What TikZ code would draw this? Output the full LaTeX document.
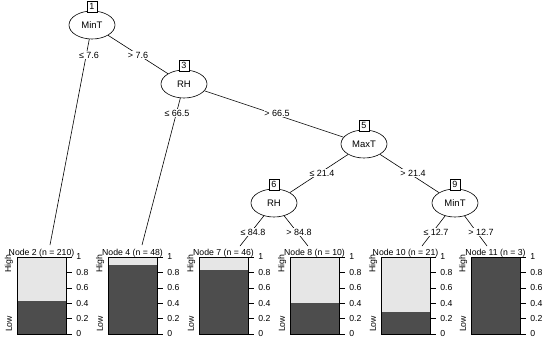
\documentclass[tikz,border=0pt]{standalone}
\usepackage{fontspec}
\setmainfont{Liberation Sans}
\usetikzlibrary{shapes.geometric}

\definecolor{barDark}{HTML}{4D4D4D}
\definecolor{barLight}{HTML}{E6E6E6}

\tikzset{
  split/.style={ellipse, draw, fill=white, minimum width=46pt, minimum height=28pt,
    inner sep=0pt, font=\fontsize{9.5}{10}\selectfont},
  idbox/.style={draw, fill=white, minimum width=10pt, minimum height=11pt, inner sep=0pt,
    font=\fontsize{9}{9}\selectfont},
  elabel/.style={fill=white, inner sep=0.8pt, font=\fontsize{9}{9}\selectfont},
  small/.style={inner sep=0pt, font=\fontsize{8.7}{9}\selectfont},
}

\begin{document}
\begin{tikzpicture}[x=1pt, y=-1pt, line width=0.6pt]
  \useasboundingbox (0,0) rectangle (550,343);

  % inner nodes
  \node[split] (n1) at (92,25) {MinT};
  \node[split] (n3) at (184,84) {RH};
  \node[split] (n5) at (364,144) {MaxT};
  \node[split] (n6) at (274,203) {RH};
  \node[split] (n9) at (455,203) {MinT};
  \node[idbox] (b1) at (92,6.5) {1};
  \node[idbox] (b3) at (184,65.5) {3};
  \node[idbox] (b5) at (364,125.5) {5};
  \node[idbox] (b6) at (274,184.5) {6};
  \node[idbox] (b9) at (455,184.5) {9};

  % leaf tops
  \coordinate (l2) at (50,245);
  \coordinate (l4) at (142,245);
  \coordinate (l7) at (240,246);
  \coordinate (l8) at (308,246);
  \coordinate (l10) at (422,246);
  \coordinate (l11) at (487,246);

  \draw (n1) -- (l2);
  \draw (n1) -- (n3);
  \draw (n3) -- (l4);
  \draw (n3) -- (n5);
  \draw (n5) -- (n6);
  \draw (n5) -- (n9);
  \draw (n6) -- (l7);
  \draw (n6) -- (l8);
  \draw (n9) -- (l10);
  \draw (n9) -- (l11);

  % split labels
  \node[elabel] (e2) at (89,55) {≤ 7.6};
  \node[elabel] (e3) at (138,55) {> 7.6};
  \node[elabel] (e4) at (177,113) {≤ 66.5};
  \node[elabel] (e5) at (277,113) {> 66.5};
  \node[elabel] (e6) at (322,173) {≤ 21.4};
  \node[elabel] (e9) at (413,173) {> 21.4};
  \node[elabel] (e7) at (253,232) {≤ 84.8};
  \node[elabel] (e8) at (299,232) {> 84.8};
  \node[elabel] (e10) at (436,232) {≤ 12.7};
  \node[elabel] (e11) at (481,232) {> 12.7};

  % terminal bar plots
  \foreach \x/\p/\id/\n in {17/0.429/2/210, 108/0.896/4/48, 199/0.826/7/46,
                            290/0.4/8/10, 381/0.286/10/21, 471/1/11/3} {
    \fill[barLight] (\x,257) rectangle (\x+49,334);
    \fill[barDark] (\x,334) rectangle (\x+49,334-77*\p);
    \draw (\x,257) rectangle (\x+49,334);
    \node[small, anchor=base] (t\id) at (\x+24.5,255) {Node \id{} (n = \n)};
    \node[small, rotate=90] (hi\id) at (\x-8,264) {High};
    \node[small, rotate=90] (lo\id) at (\x-8,324) {Low};
    \foreach \v/\t [count=\i] in {0/0, 0.2/0.2, 0.4/0.4, 0.6/0.6, 0.8/0.8, 1/1} {
      \draw (\x+49,334-77*\v) -- (\x+55,334-77*\v);
      \node[small, anchor=west] (k\id-\i) at (\x+59,334-77*\v) {\t};
    }
  }
\end{tikzpicture}
\end{document}
